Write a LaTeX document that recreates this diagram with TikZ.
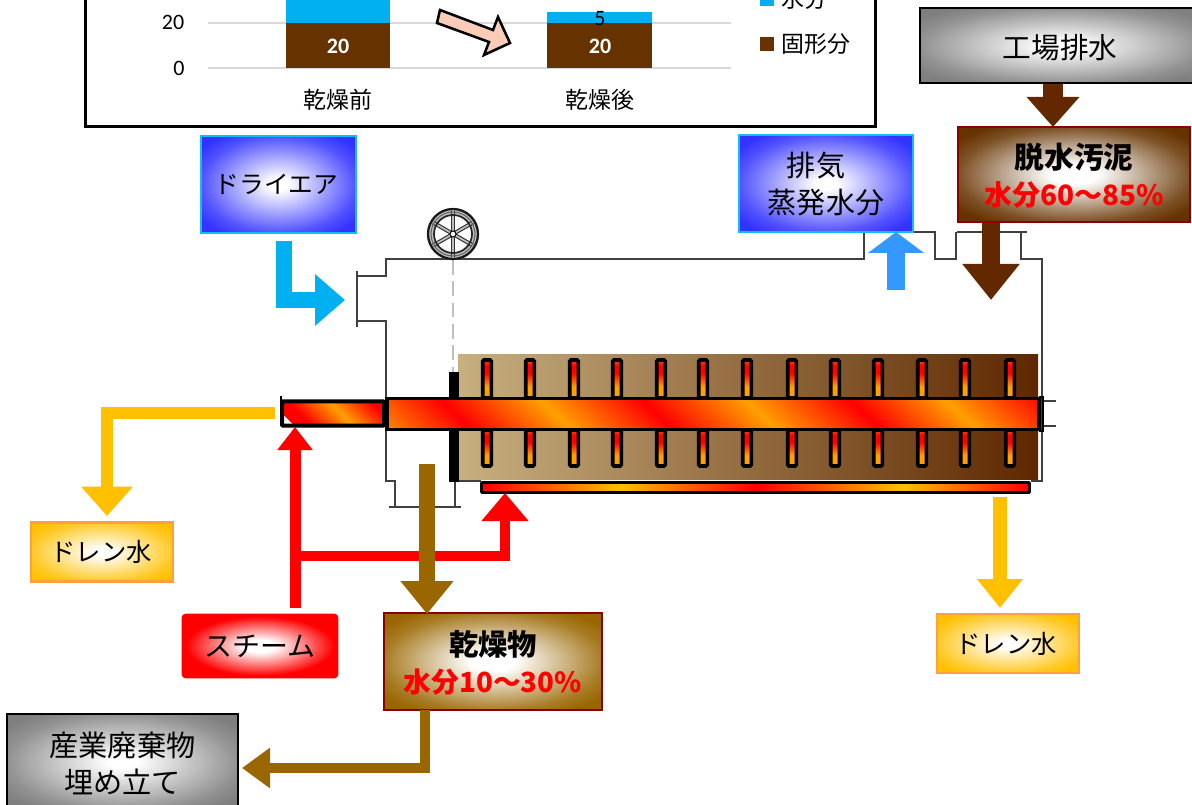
\documentclass[tikz,border=0pt]{standalone}
\usepackage{fontspec}
\setmainfont{Noto Sans CJK JP}
\newfontfamily\latinfont{Carlito}
\usetikzlibrary{arrows.meta,calc}
\newcommand{\fsz}[1]{\fontsize{#1}{#1}\selectfont}
\definecolor{boxblue}{HTML}{3333FF}
\definecolor{boxgray}{HTML}{7F7F7F}
\definecolor{boxbrown}{HTML}{663300}
\definecolor{boxtan}{HTML}{996600}
\definecolor{boxgold}{HTML}{FFC000}
\definecolor{boxred}{HTML}{FF0000}
\definecolor{darkred}{HTML}{8B0000}
\definecolor{cyanfill}{HTML}{00B0F0}
\definecolor{edgecyan}{HTML}{10BEF5}
\definecolor{edgeorange}{HTML}{FFA040}
\definecolor{solidbrown}{HTML}{663300}
\definecolor{sludgearrow}{HTML}{642800}
\definecolor{upblue}{HTML}{3399FF}
\definecolor{housing}{HTML}{404040}
\definecolor{hot}{HTML}{FF0000}
\definecolor{warm}{HTML}{FFA000}
\definecolor{drumL}{HTML}{C8B080}
\definecolor{drumR}{HTML}{5E2700}
\definecolor{pinkfill}{HTML}{FBCDB8}
\pgfdeclareradialshading{glowb}{\pgfpointorigin}{color(0bp)=(white);color(3bp)=(white);color(25bp)=(boxblue!85!white);color(31bp)=(boxblue);color(100bp)=(boxblue)}
\pgfdeclareradialshading{glowg}{\pgfpointorigin}{color(0bp)=(white);color(3bp)=(white);color(25bp)=(boxgray!85!white);color(31bp)=(boxgray);color(100bp)=(boxgray)}
\pgfdeclareradialshading{glowbr}{\pgfpointorigin}{color(0bp)=(white);color(5bp)=(white);color(25bp)=(boxbrown!85!white);color(31bp)=(boxbrown);color(100bp)=(boxbrown)}
\pgfdeclareradialshading{glowt}{\pgfpointorigin}{color(0bp)=(white);color(5bp)=(white);color(25bp)=(boxtan!85!white);color(31bp)=(boxtan);color(100bp)=(boxtan)}
\pgfdeclareradialshading{glowy}{\pgfpointorigin}{color(0bp)=(white);color(3bp)=(white);color(25bp)=(boxgold!85!white);color(31bp)=(boxgold);color(100bp)=(boxgold)}
\pgfdeclareradialshading{glowr}{\pgfpointorigin}{color(0bp)=(white);color(5bp)=(white);color(24bp)=(boxred);color(100bp)=(boxred)}
\pgfdeclarehorizontalshading{hotmain}{100bp}{color(0bp)=(warm);color(6.9bp)=(warm);color(19.4bp)=(hot);color(31.9bp)=(warm);color(44.6bp)=(hot);color(57.5bp)=(warm);color(70.6bp)=(hot);color(82.5bp)=(warm);color(95bp)=(hot);color(100bp)=(hot)}
\pgfdeclarehorizontalshading{hotsmall}{100bp}{color(0bp)=(hot);color(15bp)=(hot);color(50bp)=(warm);color(85bp)=(hot);color(100bp)=(hot)}
\pgfdeclarehorizontalshading{botplate}{100bp}{color(0bp)=(hot);color(25bp)=(hot);color(37.7bp)=(boxgold);color(50bp)=(hot);color(63.5bp)=(boxgold);color(75bp)=(hot);color(100bp)=(hot)}
\pgfdeclareverticalshading{hotpad}{100bp}{color(0bp)=(warm);color(25bp)=(warm);color(40bp)=(warm);color(58bp)=(hot);color(68bp)=(hot);color(75bp)=(warm!50!hot);color(100bp)=(warm)}
% slanted stripes: #1 shading, #2 x-left, #3 x-right, #4 y-top, #5 y-bottom (clip), #6 span-left, #7 span-right, #8 slant
\newcommand{\slantfill}[8]{%
 \begin{scope}
 \clip (#2,#4) rectangle (#3,#5);
 \pgfmathsetmacro\sa{((#7)-(#6))*.75/100.375}%
 \pgfmathsetmacro\sd{((#5)-(#4)+40)*.75/100.375}%
 \pgfmathsetmacro\sc{-(#8)*((#5)-(#4)+40)/((#5)-(#4))*.75/100.375}%
 \pgfmathsetmacro\tx{((#6)+(#7))/2*.75}%
 \pgfmathsetmacro\ty{-((#4)+(#5))/2*.75}%
 \pgftransformcm{\sa}{0}{\sc}{\sd}{\pgfpoint{\tx pt}{\ty pt}}%
 \pgflowlevelsynccm
 \pgfuseshading{#1}%
 \end{scope}}
\tikzset{
 x=0.75pt,y=-0.75pt,
 box/.style={rectangle,minimum width=#1*0.75pt,inner sep=0pt,align=center,line width=1.9pt},
 blockarrow/.style n args={4}{draw=#1,line width=#2*0.75pt,-{Triangle[length=#3*0.75pt,width=#4*0.75pt]}},
 hline/.style={draw=housing,line width=1.1pt,line cap=butt},
 padedge/.style={draw=black,line width=2.7pt,rounded corners=1pt},
 txt/.style={inner sep=0pt},
}
\newcommand{\padup}[1]{\shade[shading=hotpad] (#1-4,360) rectangle (#1+4,398);\draw[padedge] (#1-4.3,360) rectangle (#1+4.3,398);}
\newcommand{\paddn}[1]{\shade[shading=hotpad] (#1-4,430) rectangle (#1+4,466);\draw[padedge] (#1-4.3,430) rectangle (#1+4.3,466);}
\begin{document}
\begin{tikzpicture}
\clip (0,0) rectangle (1192,805);
\fill[white] (0,0) rectangle (1192,805);
% chart
\node[rectangle,draw=black,line width=2.2pt,minimum width=592.5pt,minimum height=112pt,inner sep=0pt] (chart) at (480.5,51.5) {};
\draw[draw=black!15,line width=1.1pt] (208,23) -- (731,23);
\draw[draw=black!15,line width=1.1pt] (208,68) -- (731,68);
\fill[cyanfill] (286,-10) rectangle (390,23);
\fill[solidbrown] (286,23) rectangle (390,68);
\fill[cyanfill] (547,12) rectangle (652,23);
\fill[solidbrown] (547,23) rectangle (652,68);
\node[txt,font=\latinfont\fsz{16.5}] (t20) at (173,22) {20};
\node[txt,font=\latinfont\fsz{16.5}] (t0) at (179,68) {0};
\node[txt,font=\latinfont\bfseries\fsz{16.5},text=white] (b20) at (338,46) {20};
\node[txt,font=\latinfont\bfseries\fsz{16.5},text=white] (a20) at (600,46) {20};
\node[txt,font=\latinfont\fsz{16.5}] (a5) at (600,19) {5};
\node[txt,font=\fsz{17.2}] (lb) at (338,100) {乾燥前};
\node[txt,font=\fsz{17.2}] (la) at (600,100) {乾燥後};
\fill[cyanfill] (760,-8) rectangle (774,6);
\fill[solidbrown] (760,37) rectangle (774,51);
\node[txt,anchor=west,font=\fsz{17.2}] (lw) at (781,-1) {水分};
\node[txt,anchor=west,font=\fsz{17.2}] (ls) at (781,44) {固形分};
\draw[draw=black,line width=1.9pt,fill=pinkfill,line join=miter] (440,10)--(493,30)--(498,17)--(510,43)--(484,55)--(489,42)--(437,23)--cycle;
% housing
\draw[draw=black!25,line width=1.1pt,dash pattern=on 11pt off 5pt] (453,260)--(453,372);
\draw[hline] (957,232)--(1027,232);
\draw[hline] (1021,232)--(1021,259)--(1042,259)--(1042,481)--(1031,481);
\draw[hline] (913,232)--(935,232)--(935,259)--(956,259)--(956,232);
\draw[hline] (739,232)--(864,232)--(864,259)--(386,259)--(386,276)--(357,276);
\draw[hline] (357,271)--(357,327);
\draw[hline] (357,321)--(386,321)--(386,481)--(395,481)--(395,507);
\draw[hline] (389,507)--(461,507);
\draw[hline] (455,507)--(455,481)--(481,481);
\draw[hline] (1042,401)--(1056,401);
\draw[hline] (1042,426)--(1056,426);
% fan
\draw[draw=housing,line width=.9pt,fill=black!20] (442,259)--(443,254)--(463,254)--(464,259)--cycle;
\draw[draw=black!25,line width=5pt] (453,234) circle[radius=22.5];
\foreach \a in {90,30,-30}{
 \draw[line width=3pt,draw=black!80] ($(453,234)+(\a:23)$)--($(453,234)+(\a+180:23)$);
 \draw[line width=1.3pt,draw=black!25] ($(453,234)+(\a:23)$)--($(453,234)+(\a+180:23)$);
}
\draw[draw=black!85,line width=1.3pt] (453,234) circle[radius=19];
\draw[draw=black!90,line width=1.7pt] (453,234) circle[radius=25];
\draw[draw=black!60,line width=.8pt] (453,234) circle[radius=22];
\draw[draw=black,line width=.7pt,fill=white] (453,234) circle[radius=3];
% drum
\shade[left color=drumL,right color=drumR] (458,355) rectangle (1038,479);
\fill[black] (449,372) rectangle (459,482);
% bottom plate
\shade[shading=botplate] (481,482) rectangle (1030,493);
\draw[draw=black,line width=2pt,rounded corners=.5pt] (481.5,482.5) rectangle (1029.5,492.5);
% paddles
\foreach \x in {487,530,574,617,661,703,747,792,835,878,922,965,1010}{\padup{\x}\paddn{\x}}
% shafts
\slantfill{hotsmall}{282}{384}{401}{426}{282}{400}{25}
\draw[draw=black,line width=3pt,rounded corners=.5pt] (282,401.5) rectangle (384,425.5);
\draw[draw=black,line width=1pt] (281,396) -- (281,402);
\slantfill{hotmain}{387}{1038}{399}{429}{300}{1100}{32}
\draw[draw=black,line width=2.4pt] (387,398.5) rectangle (1039,429.5);
\draw[draw=black,line width=1pt] (1039,397) -- (1043,397) -- (1043,431) -- (1039,431);
% boxes
\node[box=155,minimum height=72.7pt,draw=edgecyan,shading=glowb] (dry) at (278.5,184.5) {};
\node[txt,font=\fsz{18.5}] at (276.5,184) {ドライエア};
\node[box=174,minimum height=72.7pt,draw=edgecyan,shading=glowb] (exh) at (826,183.5) {};
\node[txt,font=\fsz{21.8},align=center] at (826,184) {排気\hspace*{15pt}\\[5.5pt]蒸発水分};
\node[box=282,minimum height=56pt,draw=black,shading=glowg] (fac) at (1061,45.5) {};
\node[txt,font=\fsz{21.5}] at (1060,48) {工場排水};
\coordinate (facEnd) at (1053,127);
\draw[blockarrow={sludgearrow}{20}{30}{51}] (fac.south -| facEnd) -- (facEnd);
\node[box=232,minimum height=71pt,draw=darkred,shading=glowbr] (slu) at (1074,174.5) {};
\node[txt,font=\fsz{21}\bfseries,align=center] at (1074,176) {{\fsz{22.3}脱水汚泥}\\[6.5pt]\textcolor{red}{水分60〜85\%}};
\node[box=142,minimum height=44.5pt,draw=edgeorange,shading=glowy] (dL) at (102,552) {};
\node[txt,font=\fsz{19}] at (101,552) {ドレン水};
\node[box=142,minimum height=44pt,draw=edgeorange,shading=glowy] (dR) at (1008,643.5) {};
\node[txt,font=\fsz{19}] at (1006,643.5) {ドレン水};
\node[box=154,minimum height=46.5pt,draw=red,rounded corners=2pt,shading=glowr] (stm) at (260,646) {};
\node[txt,font=\fsz{21}] at (stm) {スチーム};
\node[box=218,minimum height=72.7pt,draw=darkred,shading=glowt] (prod) at (493,661.5) {};
\node[txt,font=\fsz{20.8}\bfseries,align=center] at (493,663) {{\fsz{22}乾燥物}\\[6.5pt]\textcolor{red}{水分10〜30\%}};
\node[box=231,minimum height=72pt,draw=black,shading=glowg] (waste) at (122.5,762) {};
\node[txt,font=\fsz{21.9},align=center] at (122.5,763.5) {産業廃棄物\\[5.8pt]埋め立て};
% arrows
\coordinate (airS) at (284,241);
\coordinate (airT) at (345,300);
\draw[line width=11.6pt,draw=cyanfill,line join=miter,-{Triangle[length=22.5pt,width=37.5pt]}] (airS)--(284,300)--(airT);
\coordinate (exT) at (896,232);
\draw[blockarrow={upblue}{18}{21}{55}] (896,290) -- (exT);
\coordinate (sluT) at (991,300);
\draw[blockarrow={sludgearrow}{18}{36}{55}] (slu.south -| sluT) -- (sluT);
\coordinate (dlS) at (275,413);
\coordinate (dlT) at (107,516);
\draw[line width=9.5pt,draw=boxgold,line join=miter,-{Triangle[length=22pt,width=37.5pt]}] (dlS)--(107,413)--(dlT);
\coordinate (drT) at (1000,608);
\draw[blockarrow={boxgold}{14}{29}{44}] (1000,497) -- (drT);
\coordinate (stS) at (295,608);
\coordinate (stT) at (295,427);
\draw[blockarrow={red}{11}{23}{34}] (stS) -- (stT);
\coordinate (brT) at (505,493);
\draw[line width=8pt,draw=red,line join=miter,-{Triangle[length=21pt,width=34pt]}] (295,556)--(505,556)--(brT);
\coordinate (prS) at (427,464);
\coordinate (prT) at (427,614);
\draw[blockarrow={boxtan}{16.5}{33}{51}] (prS) -- (prT);
\coordinate (wsS) at (425,710);
\coordinate (wsT) at (242,768);
\draw[line width=8pt,draw=boxtan,line join=miter,-{Triangle[length=21pt,width=29pt]}] (wsS)--(425,768)--(wsT);
\end{tikzpicture}
\end{document}
